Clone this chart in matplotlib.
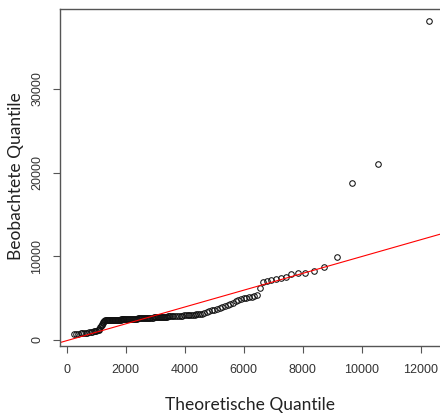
import matplotlib
matplotlib.use('Agg')
from matplotlib import pyplot as plt
import numpy as np

low_x = [250, 330, 400, 470, 530, 590, 650, 700, 760, 810, 860, 910, 960, 1010]
low_y = [720, 740, 760, 780, 800, 830, 860, 890, 920, 950, 990, 1030, 1080, 1130]

jump_x = [1050, 1080, 1110, 1140, 1160, 1180, 1200, 1220, 1240, 1260, 1280, 1300]
jump_y = [1180, 1250, 1350, 1500, 1650, 1800, 1950, 2080, 2180, 2250, 2300, 2330]

flat_x = [1325, 1350, 1375, 1400, 1425, 1450, 1475, 1500, 1525, 1550, 1575, 1600,
          1625, 1650, 1675, 1700, 1725, 1750, 1775, 1800, 1825, 1850, 1875, 1900,
          1925, 1950, 1975, 2000,
          2035, 2070, 2105, 2140, 2175, 2210, 2245, 2280, 2315, 2350, 2385, 2420,
          2455, 2490, 2525, 2560, 2595, 2630, 2665, 2700, 2735, 2770, 2805, 2840,
          2875, 2910, 2945, 2980, 3015, 3050, 3085, 3120, 3155, 3190, 3225, 3260,
          3295, 3330, 3365, 3400, 3435, 3470, 3505,
          3560, 3620, 3680, 3740, 3800, 3860, 3920, 3980, 4040, 4100, 4160, 4220,
          4280, 4340, 4400, 4460, 4520, 4580]
flat_y = [2335, 2340, 2345, 2350, 2356, 2360, 2370, 2380, 2385, 2390, 2395, 2400,
          2405, 2410, 2415, 2420, 2425, 2430, 2436, 2440, 2445, 2450, 2455, 2460,
          2462, 2465, 2468, 2470,
          2478, 2487, 2495, 2504, 2512, 2520, 2529, 2537, 2546, 2554, 2562, 2571,
          2579, 2588, 2596, 2604, 2613, 2621, 2630, 2638, 2646, 2655, 2663, 2672,
          2680, 2688, 2697, 2705, 2714, 2722, 2730, 2739, 2747, 2756, 2764, 2772,
          2781, 2789, 2798, 2806, 2814, 2823, 2831,
          2840, 2850, 2865, 2875, 2890, 2900, 2915, 2930, 2950, 2965, 2985, 3000,
          3020, 3040, 3060, 3090, 3120, 3160]

rise_x = [4650, 4740, 4830, 4920, 5010, 5100, 5190, 5280, 5370, 5460, 5550,
          5640, 5730, 5820, 5910, 6000, 6090, 6180, 6270, 6360, 6440]
rise_y = [3220, 3330, 3450, 3530, 3620, 3720, 3830, 3950, 4060, 4180, 4300,
          4400, 4650, 4800, 4900, 4980, 5030, 5080, 5150, 5250, 5380]

top_x = [6553, 6670, 6790, 6940, 7100, 7270, 7440, 7620, 7840, 8080, 8370,
         8710, 9153, 9681, 10542, 12271]
top_y = [6250, 6900, 7050, 7200, 7270, 7440, 7520, 7900, 8000, 8010, 8280,
         8760, 9952, 18720, 20990, 38112]

line_intercept = -80
line_slope = 1.005

x_ticks = [0, 2000, 4000, 6000, 8000, 10000, 12000]
y_ticks = [0, 10000, 20000, 30000]

theo = np.array(low_x + jump_x + flat_x + rise_x + top_x)
obs = np.array(low_y + jump_y + flat_y + rise_y + top_y)

fig = plt.figure(figsize=(4.4, 4.19), dpi=100)
ax = fig.add_axes([60 / 440, 73 / 419, 384 / 440, 337 / 419])

ax.plot(theo, obs, 'o', mfc='none', mec='#111111', ms=4, mew=0.75)
ax.axline((0, line_intercept), slope=line_slope, color='#ff0000', lw=0.8)

ax.set_xlim(-227, 12790)
ax.set_ylim(-717, 39546)
ax.set_xticks(x_ticks)
ax.set_yticks(y_ticks)
ax.set_yticklabels([str(v) for v in y_ticks], rotation=90, va='center')

for s in ax.spines.values():
    s.set_color('#555555')
    s.set_linewidth(1.0)
ax.tick_params(direction='out', length=5, width=0.8, color='#555555',
               labelcolor='#333333', labelsize=9)
ax.tick_params(axis='x', pad=8)
ax.tick_params(axis='y', pad=7)
for lab in ax.get_xticklabels() + ax.get_yticklabels():
    lab.set_family('Liberation Sans')

fig.text(250 / 440, 1 - 405 / 419, 'Theoretische Quantile', ha='center', va='center',
         fontsize=12.5, family='Lato', color='#222222')
fig.text(16 / 440, 1 - 176 / 419, 'Beobachtete Quantile', ha='center', va='center',
         rotation=90, fontsize=12.5, family='Lato', color='#222222')

fig.savefig('out.png', dpi=100)
